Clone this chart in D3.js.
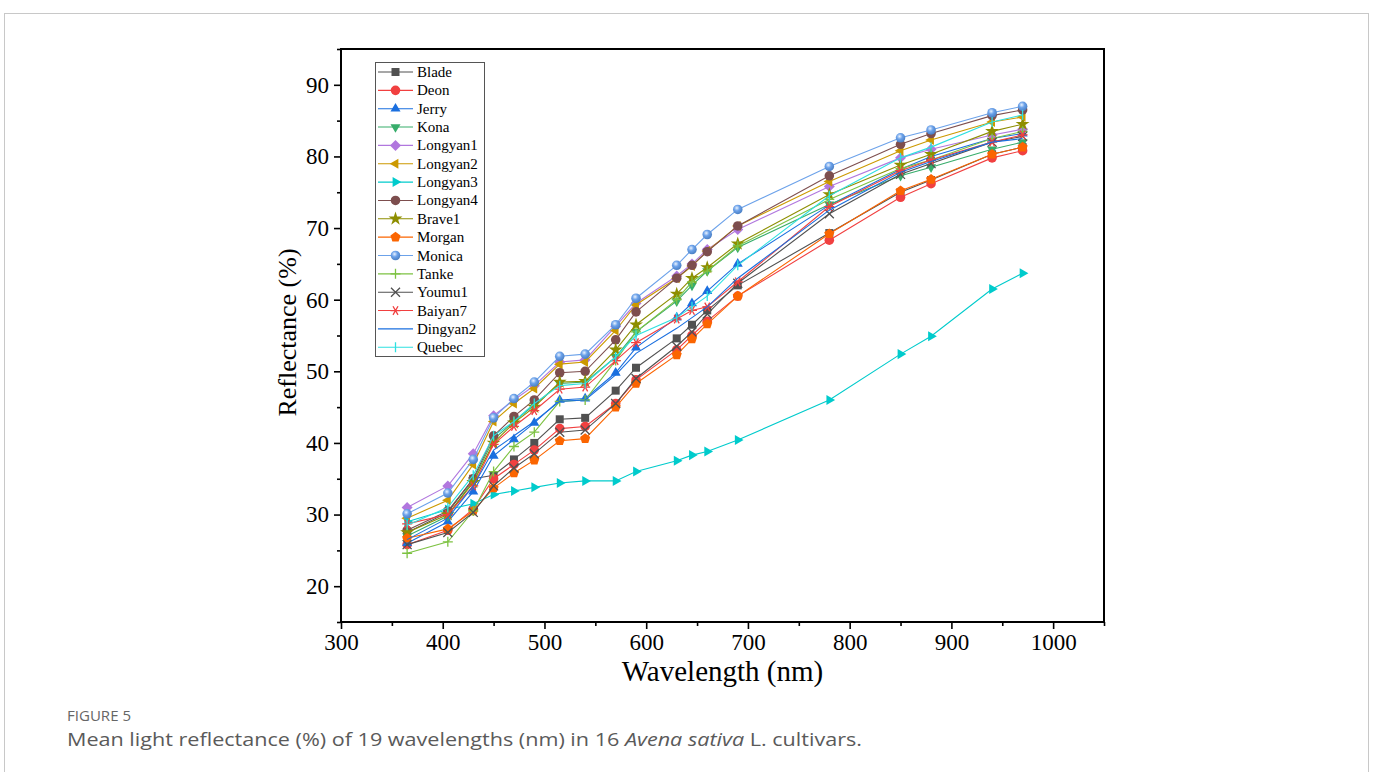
<!DOCTYPE html>
<html>
<head>
<meta charset="utf-8">
<script src="https://cdn.jsdelivr.net/npm/d3@7"></script>
<style>
  body { margin: 0; background: #fff; }
  svg { display: block; }
</style>
</head>
<body>
<div id="chart"></div>
<script>
// wavelengths (nm)
var wavelengths = [365, 405, 430, 450, 470, 490, 515, 540, 570, 590, 630, 645, 660, 690, 780, 850, 880, 940, 970];

var cultivars = ["Blade", "Deon", "Jerry", "Kona", "Longyan1", "Longyan2", "Longyan3", "Longyan4",
  "Brave1", "Morgan", "Monica", "Tanke", "Youmu1", "Baiyan7", "Dingyan2", "Quebec"];

// mean reflectance (%)
var blade    = [27.5, 30.3, 35.0, 35.5, 37.7, 40.0, 43.3, 43.5, 47.3, 50.5, 54.6, 56.5, 58.5, 62.0, 69.3, 75.0, 76.7, 80.3, 81.3];
var deon     = [25.8, 27.8, 30.8, 35.0, 37.0, 39.0, 42.0, 42.3, 45.5, 48.8, 53.0, 55.0, 57.0, 60.5, 68.3, 74.3, 76.2, 79.8, 80.8];
var jerry    = [26.0, 29.0, 33.2, 38.2, 40.5, 42.8, 46.0, 46.2, 49.8, 53.3, 57.5, 59.5, 61.2, 65.0, 73.2, 78.2, 80.0, 82.5, 83.2];
var kona     = [27.0, 29.8, 34.8, 40.5, 43.0, 45.3, 48.3, 48.5, 52.0, 55.5, 59.8, 62.0, 64.0, 67.3, 73.3, 77.3, 78.5, 81.0, 82.0];
var longyan1 = [31.0, 34.0, 38.5, 43.8, 46.0, 48.0, 51.3, 51.6, 56.3, 59.5, 63.3, 65.0, 67.0, 69.8, 75.8, 79.8, 81.0, 83.0, 83.8];
var longyan2 = [29.5, 32.0, 37.0, 43.0, 45.5, 47.6, 51.0, 51.3, 55.7, 59.3, 63.0, 64.7, 66.8, 70.3, 76.5, 80.8, 82.3, 84.8, 85.5];
var longyan3 = [29.0, 30.7, 31.5, 32.8, 33.3, 33.8, 34.4, 34.7, 34.7, 36.0, 37.5, 38.3, 38.8, 40.4, 46.0, 52.4, 54.9, 61.5, 63.7];
var longyan4 = [27.8, 30.5, 35.0, 41.0, 43.7, 46.0, 49.8, 50.0, 54.4, 58.3, 63.0, 64.8, 66.7, 70.3, 77.3, 81.7, 83.2, 85.7, 86.5];
var brave1   = [27.5, 30.0, 34.5, 40.0, 42.8, 45.0, 48.5, 48.6, 53.0, 56.5, 60.8, 63.0, 64.5, 67.8, 74.7, 78.8, 80.3, 83.5, 84.5];
var morgan   = [26.7, 28.0, 30.5, 33.7, 35.8, 37.6, 40.3, 40.6, 45.0, 48.3, 52.3, 54.5, 56.6, 60.5, 69.2, 75.2, 76.8, 80.3, 81.3];
var monica   = [30.1, 33.0, 37.7, 43.5, 46.2, 48.5, 52.1, 52.4, 56.5, 60.2, 64.8, 67.0, 69.1, 72.6, 78.6, 82.6, 83.7, 86.1, 87.0];
var tanke    = [24.6, 26.2, 30.5, 36.0, 39.5, 41.5, 45.8, 46.0, 51.5, 55.5, 60.0, 62.5, 64.0, 67.5, 74.0, 78.3, 79.5, 82.5, 83.5];
var youmu1   = [25.8, 27.5, 30.3, 34.0, 36.5, 38.5, 41.5, 41.8, 45.5, 49.0, 53.5, 55.5, 58.0, 62.3, 72.0, 77.5, 79.0, 82.0, 82.8];
var baiyan7  = [28.7, 30.0, 34.0, 39.8, 42.3, 44.5, 47.5, 47.8, 51.5, 54.0, 57.3, 58.5, 59.0, 62.5, 73.0, 78.0, 79.5, 82.0, 83.0];
var dingyan2 = [26.5, 29.5, 34.0, 39.0, 41.0, 43.0, 45.8, 46.0, 49.5, 52.5, 56.0, 57.5, 59.0, 63.0, 72.5, 77.8, 79.3, 82.0, 82.5];
var quebec   = [28.5, 31.0, 35.5, 41.0, 43.0, 45.5, 48.0, 48.3, 52.0, 55.0, 57.5, 59.0, 60.5, 64.8, 74.5, 79.8, 81.3, 84.8, 85.8];

var seriesValues = [blade, deon, jerry, kona, longyan1, longyan2, longyan3, longyan4,
  brave1, morgan, monica, tanke, youmu1, baiyan7, dingyan2, quebec];

var colors = ["#515151", "#F14040", "#1A6FDF", "#37AD6B", "#B177DE", "#CC9900", "#00CBCC", "#7D4E4E",
  "#8E8E00", "#FB6501", "#6CA2EA", "#7DC242", "#515151", "#F14040", "#1A6FDF", "#2EE0E0"];
var markers = ["square", "circle", "up", "down", "diamond", "left", "right", "circle",
  "star", "pentagon", "sphere", "plus", "cross", "asterisk", "none", "vbar"];

var xTicks = [300, 400, 500, 600, 700, 800, 900, 1000];
var yTicks = [20, 30, 40, 50, 60, 70, 80, 90];

// layout
var W = 1373, H = 772;
var plot = {left: 341, right: 1104, top: 49, bottom: 622};

var svg = d3.select("#chart").append("svg")
  .attr("width", W)
  .attr("height", H);

// card border
svg.append("rect")
  .attr("x", 4.5).attr("y", 13.5)
  .attr("width", W - 9).attr("height", H)
  .attr("fill", "none")
  .attr("stroke", "#c8c8c8")
  .attr("stroke-width", 1);

var defs = svg.append("defs");
var grad = defs.append("radialGradient")
  .attr("id", "sphere")
  .attr("cx", "40%").attr("cy", "35%").attr("r", "65%");
grad.append("stop").attr("offset", "0%").attr("stop-color", "#eaf3ff");
grad.append("stop").attr("offset", "45%").attr("stop-color", "#6CA2EA");
grad.append("stop").attr("offset", "100%").attr("stop-color", "#4a7fc4");

var x = d3.scaleLinear().domain([300, 1050]).range([plot.left, plot.right]);
var y = d3.scaleLinear().domain([15, 95]).range([plot.bottom, plot.top]);

// marker shapes
function polygon(n, r, rot) {
  var pts = [];
  for (var i = 0; i < n; i++) {
    var a = rot + i * 2 * Math.PI / n;
    pts.push([r * Math.cos(a), r * Math.sin(a)]);
  }
  return "M" + pts.map(function(p) { return p[0].toFixed(2) + "," + p[1].toFixed(2); }).join("L") + "Z";
}
function markerPath(type) {
  switch (type) {
    case "square": return "M-4,-4H4V4H-4Z";
    case "circle":
    case "sphere": return d3.symbol(d3.symbolCircle, 72)();
    case "up": return polygon(3, 5.8, -Math.PI / 2);
    case "down": return polygon(3, 5.8, Math.PI / 2);
    case "left": return polygon(3, 5.8, Math.PI);
    case "right": return polygon(3, 5.8, 0);
    case "diamond": return "M0,-5.5L5.5,0L0,5.5L-5.5,0Z";
    case "pentagon": return polygon(5, 5.3, -Math.PI / 2);
    case "star": return d3.symbol(d3.symbolStar, 60)();
    case "plus": return "M-5,0H5M0,-5V5";
    case "cross": return "M-4.5,-4.5L4.5,4.5M-4.5,4.5L4.5,-4.5";
    case "asterisk": return "M-5,0H5M-2.5,-4.3L2.5,4.3M-2.5,4.3L2.5,-4.3";
    case "vbar": return "M0,-5V5";
    default: return null;
  }
}
var strokeOnly = {plus: 1, cross: 1, asterisk: 1, vbar: 1};

function drawMarker(g, type, color, cx, cy) {
  var p = markerPath(type);
  if (!p) return;
  var m = g.append("path")
    .attr("d", p)
    .attr("transform", "translate(" + cx + "," + cy + ")");
  if (strokeOnly[type]) {
    m.attr("fill", "none").attr("stroke", color).attr("stroke-width", 1.3);
  } else if (type === "sphere") {
    m.attr("fill", "url(#sphere)");
  } else {
    m.attr("fill", color);
  }
}

// axes
var axisFont = "'Liberation Serif', 'Times New Roman', serif";

var xAxis = svg.append("g")
  .attr("transform", "translate(0," + plot.bottom + ")")
  .call(d3.axisBottom(x).tickValues(xTicks).tickFormat(d3.format("d"))
    .tickSize(7).tickSizeOuter(0).tickPadding(5));
var xMinor = svg.append("g")
  .attr("transform", "translate(0," + plot.bottom + ")")
  .call(d3.axisBottom(x).tickValues([350, 450, 550, 650, 750, 850, 950, 1050]).tickSize(4).tickSizeOuter(0).tickFormat(""));
var yAxis = svg.append("g")
  .attr("transform", "translate(" + plot.left + ",0)")
  .call(d3.axisLeft(y).tickValues(yTicks).tickSize(7).tickSizeOuter(0).tickPadding(5));
var yMinor = svg.append("g")
  .attr("transform", "translate(" + plot.left + ",0)")
  .call(d3.axisLeft(y).tickValues([15, 25, 35, 45, 55, 65, 75, 85, 95]).tickSize(4).tickSizeOuter(0).tickFormat(""));

[xAxis, xMinor, yAxis, yMinor].forEach(function(a) {
  a.select(".domain").remove();
  a.selectAll("line").attr("stroke", "#000").attr("stroke-width", 1.6);
  a.selectAll("text")
    .attr("fill", "#000")
    .style("font-family", axisFont)
    .style("font-size", "23px");
});

// series
var lineGen = d3.line()
  .x(function(d) { return x(d[0]); })
  .y(function(d) { return y(d[1]); });

var plotG = svg.append("g");
cultivars.forEach(function(name, i) {
  var pts = wavelengths.map(function(w, j) { return [w, seriesValues[i][j]]; });
  var g = plotG.append("g").attr("class", "series");
  g.append("path")
    .datum(pts)
    .attr("d", lineGen)
    .attr("fill", "none")
    .attr("stroke", colors[i])
    .attr("stroke-width", 1.1);
  pts.forEach(function(p) {
    drawMarker(g, markers[i], colors[i], x(p[0]), y(p[1]));
  });
});

// frame
svg.append("rect")
  .attr("x", plot.left).attr("y", plot.top)
  .attr("width", plot.right - plot.left)
  .attr("height", plot.bottom - plot.top)
  .attr("fill", "none")
  .attr("stroke", "#000")
  .attr("stroke-width", 2);

// axis titles
svg.append("text")
  .attr("x", (plot.left + plot.right) / 2)
  .attr("y", 681)
  .attr("text-anchor", "middle")
  .style("font-family", axisFont)
  .style("font-size", "29px")
  .text("Wavelength (nm)");

svg.append("text")
  .attr("transform", "translate(296," + ((plot.top + plot.bottom) / 2 - 3) + ") rotate(-90)")
  .attr("text-anchor", "middle")
  .style("font-family", axisFont)
  .style("font-size", "26px")
  .text("Reflectance (%)");

// legend
var legend = svg.append("g").attr("transform", "translate(375,62)");
legend.append("rect")
  .attr("x", 0.5).attr("y", 0.5)
  .attr("width", 109).attr("height", 294)
  .attr("fill", "#fff")
  .attr("stroke", "#555")
  .attr("stroke-width", 1);
cultivars.forEach(function(name, i) {
  var ly = 10 + i * 18.35;
  var item = legend.append("g");
  item.append("line")
    .attr("x1", 3).attr("x2", 38)
    .attr("y1", ly).attr("y2", ly)
    .attr("stroke", colors[i])
    .attr("stroke-width", 1.1);
  drawMarker(item, markers[i], colors[i], 20.5, ly);
  item.append("text")
    .attr("x", 42).attr("y", ly + 5)
    .style("font-family", axisFont)
    .style("font-size", "15px")
    .text(name);
});

// caption
svg.append("text")
  .attr("x", 67).attr("y", 721)
  .attr("fill", "#666")
  .attr("textLength", 64)
  .attr("lengthAdjust", "spacingAndGlyphs")
  .style("font-family", "'Open Sans', sans-serif")
  .style("font-size", "14px")
  .text("FIGURE 5");

var cap = svg.append("text")
  .attr("x", 67).attr("y", 746)
  .attr("fill", "#5a5a5a")
  .attr("textLength", 795)
  .attr("lengthAdjust", "spacingAndGlyphs")
  .style("font-family", "'Open Sans', sans-serif")
  .style("font-size", "19px");
cap.append("tspan").text("Mean light reflectance (%) of 19 wavelengths (nm) in 16 ");
cap.append("tspan").style("font-style", "italic").text("Avena sativa");
cap.append("tspan").text(" L. cultivars.");
</script>
</body>
</html>
